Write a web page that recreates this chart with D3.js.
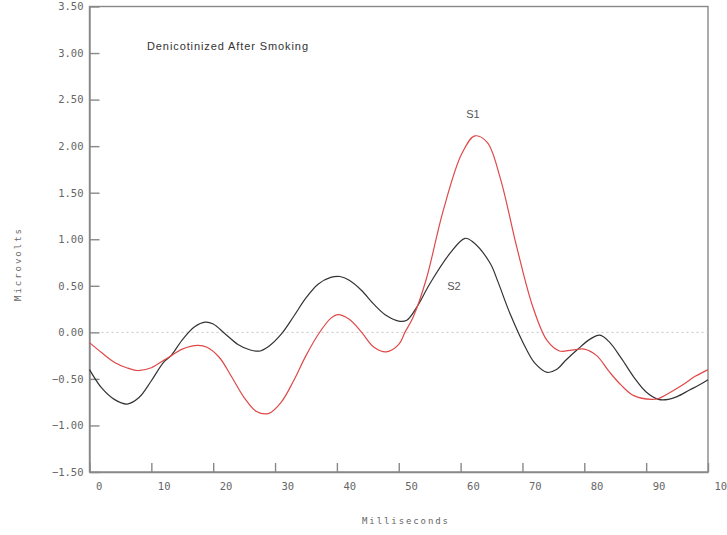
<!DOCTYPE html>
<html>
<head>
<meta charset="utf-8">
<script src="https://cdn.jsdelivr.net/npm/d3@7/dist/d3.min.js"></script>
<style>
  html, body { margin: 0; padding: 0; background: #fff; }
  svg { display: block; }
  .tick text { font-family: "DejaVu Sans Mono", monospace; font-size: 10.5px; fill: #666; }
  .domain, .tick line { stroke: #888; stroke-width: 1.4; }
</style>
</head>
<body>
<svg id="chart" width="727" height="535"></svg>
<script>
// time in milliseconds, amplitude in microvolts
var s1Ms = [0, 2, 4, 6, 7.8, 10, 12, 13, 15, 17.5, 19, 21, 23, 25, 27, 29, 31, 33, 35, 37, 39, 40.2, 42, 44, 46, 48, 50, 51, 52.3, 54.4, 57.2, 60.2, 62.3, 64.3, 66.4, 69.1, 71.7, 74, 76, 78, 80, 82, 84, 86, 88, 90.9, 92, 94, 96, 98, 100];
var s1Uv = [-0.11, -0.22, -0.32, -0.38, -0.41, -0.38, -0.30, -0.26, -0.18, -0.14, -0.16, -0.27, -0.48, -0.70, -0.85, -0.87, -0.75, -0.52, -0.25, -0.02, 0.15, 0.19, 0.14, 0.00, -0.16, -0.21, -0.13, 0.00, 0.16, 0.56, 1.31, 1.92, 2.11, 2.04, 1.66, 0.91, 0.27, -0.09, -0.20, -0.19, -0.18, -0.25, -0.42, -0.57, -0.68, -0.72, -0.71, -0.64, -0.56, -0.47, -0.40];

var s2Ms = [0, 2, 4, 6.1, 8, 10, 12, 13.2, 15, 17, 18.7, 20, 22, 24, 26, 27.6, 29, 31, 33, 35, 37, 39, 40.5, 42, 44, 46, 48, 50, 51.3, 53, 55, 58.3, 60.7, 62, 64.8, 66, 68, 70.7, 72, 74, 75.5, 77, 78.8, 81, 82.5, 84, 86, 88, 90, 92, 93.6, 95, 97, 99, 100];
var s2Uv = [-0.40, -0.60, -0.72, -0.77, -0.70, -0.52, -0.32, -0.25, -0.08, 0.06, 0.11, 0.09, -0.02, -0.13, -0.19, -0.20, -0.15, -0.02, 0.17, 0.37, 0.52, 0.59, 0.60, 0.56, 0.45, 0.30, 0.18, 0.12, 0.13, 0.28, 0.52, 0.85, 1.01, 0.97, 0.74, 0.55, 0.20, -0.19, -0.33, -0.43, -0.40, -0.30, -0.19, -0.07, -0.03, -0.10, -0.28, -0.48, -0.64, -0.72, -0.72, -0.69, -0.62, -0.55, -0.51];

var xTicks = [0, 10, 20, 30, 40, 50, 60, 70, 80, 90, 100];
var yTicks = [-1.5, -1.0, -0.5, 0, 0.5, 1.0, 1.5, 2.0, 2.5, 3.0, 3.5];

var titleText = 'Denicotinized After Smoking';
var xTitle = 'Milliseconds';
var yTitle = 'Microvolts';

var svg = d3.select('#chart');
var plotLeft = 89.5, plotRight = 708, plotTop = 6.5, plotBottom = 472;

var x = d3.scaleLinear().domain([0, 100]).range([plotLeft, plotRight]);
var y = d3.scaleLinear().domain([-1.5, 3.5]).range([plotBottom, plotTop]);

// frame
svg.append('rect')
  .attr('x', plotLeft).attr('y', plotTop)
  .attr('width', plotRight - plotLeft).attr('height', plotBottom - plotTop)
  .attr('fill', 'none').attr('stroke', '#888').attr('stroke-width', 1.4);

// zero reference
svg.append('line')
  .attr('x1', plotLeft + 12).attr('x2', plotRight)
  .attr('y1', y(0)).attr('y2', y(0))
  .attr('stroke', '#c4c4c4').attr('stroke-width', 1)
  .attr('stroke-dasharray', '2,3');

svg.append('g')
  .attr('transform', 'translate(' + plotLeft + ',0)')
  .call(d3.axisLeft(y).tickValues(yTicks).tickFormat(d3.format('.2f'))
    .tickSizeInner(-10).tickSizeOuter(0).tickPadding(6));

var xAxis = svg.append('g')
  .attr('transform', 'translate(0,' + plotBottom + ')')
  .call(d3.axisBottom(x).tickValues(xTicks).tickFormat(d3.format('d'))
    .tickSizeInner(-9).tickSizeOuter(0).tickPadding(11));
xAxis.selectAll('.tick text').attr('text-anchor', 'start').attr('dx', 6);

var line = d3.line()
  .x(function(d) { return x(d[0]); })
  .y(function(d) { return y(d[1]); })
  .curve(d3.curveCatmullRom.alpha(0.5));

svg.append('path')
  .datum(d3.zip(s2Ms, s2Uv))
  .attr('d', line)
  .attr('fill', 'none').attr('stroke', '#333').attr('stroke-width', 1.2);

svg.append('path')
  .datum(d3.zip(s1Ms, s1Uv))
  .attr('d', line)
  .attr('fill', 'none').attr('stroke', '#e04848').attr('stroke-width', 1.2);

// labels
svg.append('text')
  .attr('x', 147).attr('y', 50)
  .attr('font-family', 'Liberation Sans, Arial, sans-serif').attr('font-size', 11)
  .attr('fill', '#333')
  .attr('textLength', 161)
  .text(titleText);

svg.append('text')
  .attr('x', 473).attr('y', 118).attr('text-anchor', 'middle')
  .attr('font-family', 'Liberation Sans, Arial, sans-serif').attr('font-size', 11)
  .attr('fill', '#555')
  .text('S1');

svg.append('text')
  .attr('x', 454).attr('y', 290).attr('text-anchor', 'middle')
  .attr('font-family', 'Liberation Sans, Arial, sans-serif').attr('font-size', 11)
  .attr('fill', '#555')
  .text('S2');

svg.append('text')
  .attr('x', 362).attr('y', 524)
  .attr('font-family', 'DejaVu Sans Mono, monospace').attr('font-size', 9)
  .attr('fill', '#666')
  .attr('textLength', 86)
  .text(xTitle);

svg.append('text')
  .attr('transform', 'translate(21,265) rotate(-90)')
  .attr('text-anchor', 'middle')
  .attr('font-family', 'DejaVu Sans Mono, monospace').attr('font-size', 9)
  .attr('fill', '#666')
  .attr('textLength', 72)
  .text(yTitle);
</script>
</body>
</html>
